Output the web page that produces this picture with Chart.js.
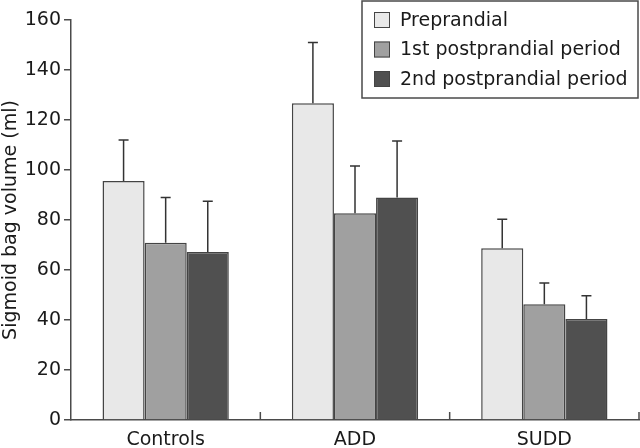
<!DOCTYPE html>
<html>
<head>
<meta charset="utf-8">
<script src="https://cdn.jsdelivr.net/npm/chart.js@4.4.1/dist/chart.umd.min.js"></script>
<style>
    html, body { margin: 0; padding: 0; background: #ffffff; }
    #chart { display: block; }
</style>
</head>
<body>
<canvas id="chart" width="640" height="448"></canvas>
<script>
// values (ml)
const categories = ['Controls', 'ADD', 'SUDD'];
const seriesNames = ['Preprandial', '1st postprandial period', '2nd postprandial period'];
const preprandial = [95.6, 126.7, 68.7];
const firstPostprandial = [70.9, 82.7, 46.3];
const secondPostprandial = [67.2, 89.0, 40.4];
// upper error bars (SD)
const preprandialErr = [16.4, 24.3, 11.6];
const firstPostprandialErr = [18.1, 18.9, 8.5];
const secondPostprandialErr = [20.3, 22.6, 9.3];
const yTicks = [0, 20, 40, 60, 80, 100, 120, 140, 160];

const FONT = 'DejaVu Sans';
const AXIS = '#4a4a4a';
const fills = ['#e8e8e8', '#a0a0a0', '#505050'];

const errorBars =
{
    id: 'errorBars',
    afterDatasetsDraw(chart)
    {
        const ctx = chart.ctx;
        const yScale = chart.scales.y;
        ctx.save();
        ctx.strokeStyle = '#333333';
        ctx.lineWidth = 1.5;
        chart.data.datasets.forEach((ds, i) =>
        {
            const meta = chart.getDatasetMeta(i);
            meta.data.forEach((bar, j) =>
            {
                const top = yScale.getPixelForValue(ds.data[j]);
                const cap = yScale.getPixelForValue(ds.data[j] + ds.errors[j]);
                ctx.beginPath();
                ctx.moveTo(bar.x, top);
                ctx.lineTo(bar.x, cap);
                ctx.moveTo(bar.x - 5, cap);
                ctx.lineTo(bar.x + 5, cap);
                ctx.stroke();
            });
        });
        ctx.restore();
    }
};

// short upward ticks between the groups on the x axis
const groupTicks =
{
    id: 'groupTicks',
    afterDraw(chart)
    {
        const ctx = chart.ctx;
        const xScale = chart.scales.x;
        const half = (xScale.getPixelForValue(1) - xScale.getPixelForValue(0)) / 2;
        ctx.save();
        ctx.strokeStyle = AXIS;
        ctx.lineWidth = 1.5;
        for (let i = 0; i < categories.length; i++)
        {
            const x = xScale.getPixelForValue(i) + half;
            ctx.beginPath();
            ctx.moveTo(x, xScale.top);
            ctx.lineTo(x, xScale.top - 8);
            ctx.stroke();
        }
        ctx.restore();
    }
};

const boxLegend =
{
    id: 'boxLegend',
    afterDraw(chart)
    {
        const ctx = chart.ctx;
        ctx.save();
        ctx.strokeStyle = AXIS;
        ctx.lineWidth = 1.5;
        ctx.fillStyle = '#ffffff';
        ctx.fillRect(362, 1, 276, 97);
        ctx.strokeRect(362, 1, 276, 97);
        ctx.font = '19px "' + FONT + '"';
        ctx.textBaseline = 'middle';
        chart.data.datasets.forEach((ds, i) =>
        {
            const cy = 20 + i * 29.5;
            ctx.fillStyle = ds.backgroundColor;
            ctx.fillRect(374, cy - 8, 16, 16);
            ctx.lineWidth = 1;
            ctx.strokeStyle = '#444444';
            ctx.strokeRect(374.5, cy - 7.5, 15, 15);
            ctx.fillStyle = '#1a1a1a';
            ctx.fillText(ds.label, 400, cy + 1);
        });
        ctx.restore();
    }
};

const seriesValues = [preprandial, firstPostprandial, secondPostprandial];
const seriesErrors = [preprandialErr, firstPostprandialErr, secondPostprandialErr];

new Chart(document.getElementById('chart'),
{
    type: 'bar',
    data:
    {
        labels: categories,
        datasets: seriesNames.map((name, i) => (
        {
            label: name,
            data: seriesValues[i],
            errors: seriesErrors[i],
            backgroundColor: fills[i],
            borderColor: '#444444',
            borderWidth: 1.5,
            borderSkipped: 'start',
            barPercentage: 1,
            categoryPercentage: 0.667
        }))
    },
    options:
    {
        responsive: false,
        animation: false,
        devicePixelRatio: 1,
        layout: { padding: { top: 20, right: 1, bottom: 0, left: 0 } },
        plugins:
        {
            legend: { display: false },
            tooltip: { enabled: false }
        },
        scales:
        {
            x:
            {
                grid: { display: false, drawTicks: false },
                border: { display: true, color: AXIS, width: 1.5 },
                ticks: { color: '#1a1a1a', padding: 9, font: { family: FONT, size: 19 } },
                afterFit(scale) { scale.height = 28; }
            },
            y:
            {
                min: 0,
                max: 160,
                afterBuildTicks(scale) { scale.ticks = yTicks.map(v => ({ value: v })); },
                grid: { drawOnChartArea: false, drawTicks: true, tickLength: 7, color: AXIS, lineWidth: 1.5 },
                border: { display: true, color: AXIS, width: 1.5 },
                ticks: { color: '#1a1a1a', padding: 3, font: { family: FONT, size: 19 } },
                title:
                {
                    display: true,
                    text: 'Sigmoid bag volume (ml)',
                    color: '#1a1a1a',
                    padding: 0,
                    font: { family: FONT, size: 19 }
                },
                afterFit(scale) { scale.width = 71; }
            }
        }
    },
    plugins: [errorBars, groupTicks, boxLegend]
});
</script>
</body>
</html>
